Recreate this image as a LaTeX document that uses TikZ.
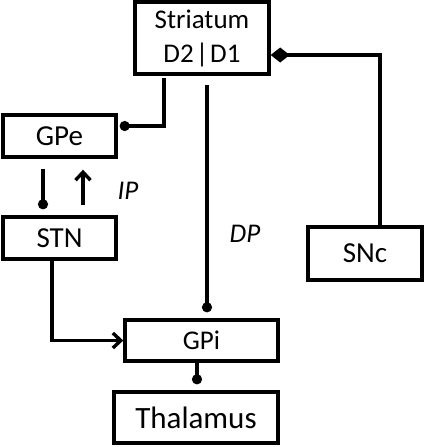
\documentclass[tikz,border=0pt]{standalone}
\usepackage{fontspec}
\setmainfont{Carlito}
\usepackage{tikz}
\usetikzlibrary{arrows.meta}
\newcommand{\fs}[1]{\fontsize{#1}{#1}\selectfont}

\begin{document}
\begin{tikzpicture}[x=0.5pt,y=-0.5pt,line width=1.7pt,
    box/.style={draw,rectangle,inner sep=0pt,font=\fs{14.5}},
    lbl/.style={font=\fs{13.5}\itshape},
    inh/.style={-{Circle[length=5pt]}},
    exc/.style={-{Straight Barb[length=4pt,width=7.5pt]}},
    dop/.style={-{Diamond[length=9.5pt,width=7.5pt]}}]
    \useasboundingbox (0,0) rectangle (425,447);
    \node[box,minimum width=67pt,minimum height=36pt,align=center,font=\fs{13.5}] (str) at (202,38) {Striatum\\[3.5pt]D2\kern1pt|\kern1pt D1};
    \node[box,minimum width=56.5pt,minimum height=21pt] (gpe) at (59.5,136) {GPe};
    \node[box,minimum width=56.5pt,minimum height=21pt] (stn) at (59.5,238) {STN};
    \node[box,minimum width=76.5pt,minimum height=20.5pt,font=\fs{13.5}] (gpi) at (201.5,340.5) {GPi};
    \node[box,minimum width=82pt,minimum height=25.5pt,font=\fs{15.5}] (thal) at (196,417.5) {Thalamus};
    \node[box,minimum width=57pt,minimum height=26.5pt] (snc) at (365,253.5) {SNc};
    \node[lbl] (ip) at (128,191) {IP};
    \node[lbl] (dp) at (245,234) {DP};
    \coordinate (d2) at (164,78);
    \coordinate (d1) at (207,85);
    \coordinate (g) at (197,361);
    \draw[inh,shorten >=1pt] (d2) |- ([yshift=5pt]gpe.east);
    \draw[inh,shorten >=3pt] (d1) -- (d1 |- gpi.north);
    \draw[inh,shorten <=5pt,shorten >=3pt] ([xshift=-8.25pt]gpe.south) -- ([xshift=-8.25pt]stn.north);
    \draw[exc,shorten <=5pt,shorten >=5.5pt] ([xshift=11.75pt]stn.north) -- ([xshift=11.75pt]gpe.south);
    \draw[exc] ([xshift=-3.75pt]stn.south) |- (gpi.west);
    \draw[inh,shorten >=3pt] (g |- gpi.south) -- (g |- thal.north);
    \draw[dop] ([xshift=7.5pt]snc.north) |- ([yshift=-8.5pt]str.east);
\end{tikzpicture}
\end{document}
